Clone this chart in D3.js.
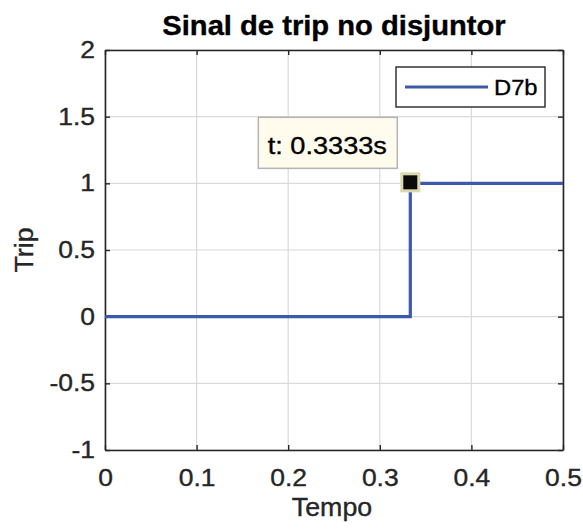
<!DOCTYPE html>
<html>
<head>
<meta charset="utf-8">
<script src="https://cdn.jsdelivr.net/npm/d3@7"></script>
<style>
  body { margin: 0; background: #fff; }
  svg text { font-family: "Liberation Sans", Arial, sans-serif; }
</style>
</head>
<body>
<div id="chart"></div>
<script>
// data
var tempo = [0, 0.3333, 0.3333, 0.5];
var trip = [0, 0, 1, 1];
var xTicks = [0, 0.1, 0.2, 0.3, 0.4, 0.5];
var yTicks = [-1, -0.5, 0, 0.5, 1, 1.5, 2];
var seriesName = "D7b";
var tipT = 0.3333, tipY = 1;

var margin = { top: 50, right: 20, bottom: 79, left: 105 },
  width = 583 - margin.left - margin.right,
  height = 529 - margin.top - margin.bottom;

// matlab text looks a bit wider/heavier than arial, stretch glyphs a little
function widen(sel, k) {
  sel.each(function () {
    var len = this.getComputedTextLength();
    d3.select(this)
      .attr("textLength", len * k)
      .attr("lengthAdjust", "spacingAndGlyphs")
      .style("stroke", d3.select(this).style("fill"))
      .style("stroke-width", 0.35);
  });
}

var svg = d3
  .select("#chart")
  .append("svg")
  .attr("width", 583)
  .attr("height", 529);

var g = svg
  .append("g")
  .attr("transform", "translate(" + margin.left + "," + margin.top + ")");

var x = d3.scaleLinear().domain([0, 0.5]).range([0, width]);
var y = d3.scaleLinear().domain([-1, 2]).range([height, 0]);

// grid
g.append("g")
  .selectAll("line")
  .data(xTicks)
  .enter()
  .append("line")
  .attr("x1", (d) => x(d))
  .attr("x2", (d) => x(d))
  .attr("y1", 0)
  .attr("y2", height)
  .style("stroke", "#dadada")
  .style("stroke-width", 1.2);
g.append("g")
  .selectAll("line")
  .data(yTicks)
  .enter()
  .append("line")
  .attr("x1", 0)
  .attr("x2", width)
  .attr("y1", (d) => y(d))
  .attr("y2", (d) => y(d))
  .style("stroke", "#dadada")
  .style("stroke-width", 1.2);

// axes (ticks inside like matlab)
var fmt = (d) => String(d);
var xaxis = g
  .append("g")
  .attr("transform", "translate(0," + height + ")")
  .call(d3.axisBottom(x).tickValues(xTicks).tickSizeInner(-5).tickSizeOuter(0).tickPadding(20).tickFormat(fmt));
var xaxisTop = g
  .append("g")
  .call(d3.axisTop(x).tickValues(xTicks).tickSizeInner(-5).tickSizeOuter(0).tickFormat(""));
var yaxis = g
  .append("g")
  .call(d3.axisLeft(y).tickValues(yTicks).tickSizeInner(-5).tickSizeOuter(0).tickPadding(10).tickFormat(fmt));
var yaxisRight = g
  .append("g")
  .attr("transform", "translate(" + width + ",0)")
  .call(d3.axisRight(y).tickValues(yTicks).tickSizeInner(-5).tickSizeOuter(0).tickFormat(""));

[xaxis, xaxisTop, yaxis, yaxisRight].forEach(function (a) {
  a.select(".domain").style("stroke", "#262626").style("stroke-width", 1.6);
  a.selectAll(".tick line").style("stroke", "#262626").style("stroke-width", 1.4);
  a.selectAll(".tick text").style("font-size", "23px").style("fill", "#262626");
});
xaxis.selectAll(".tick text").attr("dy", "0.71em");
widen(xaxis.selectAll(".tick text"), 1.15);
widen(yaxis.selectAll(".tick text"), 1.15);

// labels
var title = svg
  .append("text")
  .attr("x", margin.left + width / 2)
  .attr("y", 35)
  .style("text-anchor", "middle")
  .style("font-size", "27px")
  .style("font-weight", "bold")
  .style("fill", "#000")
  .text("Sinal de trip no disjuntor");
widen(title, 1.08);

var xlab = svg
  .append("text")
  .attr("x", margin.left + width / 2 - 2)
  .attr("y", 516)
  .style("text-anchor", "middle")
  .style("font-size", "25px")
  .style("fill", "#262626")
  .text("Tempo");
widen(xlab, 1.07);

var ylab = svg
  .append("text")
  .attr("transform", "rotate(-90)")
  .attr("x", -(margin.top + height / 2))
  .attr("y", 33)
  .style("text-anchor", "middle")
  .style("font-size", "25px")
  .style("fill", "#262626")
  .text("Trip");
widen(ylab, 1.07);

// line
var data = tempo.map((t, i) => ({ t: t, v: trip[i] }));
var line = d3
  .line()
  .x((d) => x(d.t))
  .y((d) => y(d.v));

g.append("path")
  .datum(data)
  .attr("fill", "none")
  .attr("stroke", "#3c5aa8")
  .style("stroke-width", 3.2)
  .attr("d", line);

// datatip marker
g.append("rect")
  .attr("x", x(tipT) - 8.5)
  .attr("y", y(tipY) - 9.5)
  .attr("width", 17)
  .attr("height", 17)
  .style("fill", "#0a0a0a")
  .style("stroke", "#dcd8ae")
  .style("stroke-width", 3);

// datatip box
var tip = g.append("g").attr("transform", "translate(" + (x(tipT) - 152) + "," + (y(tipY) - 66) + ")");
tip
  .append("rect")
  .attr("width", 139)
  .attr("height", 51)
  .style("fill", "#fffcee")
  .style("stroke", "#b4b4b4")
  .style("stroke-width", 1.5);
var tipText = tip
  .append("text")
  .attr("x", 69)
  .attr("y", 37)
  .style("text-anchor", "middle")
  .style("font-size", "23px")
  .style("fill", "#000")
  .text("t: " + tipT + "s");
widen(tipText, 1.18);

// legend
var leg = g.append("g").attr("transform", "translate(" + (width - 167) + ",17)");
leg
  .append("rect")
  .attr("width", 149)
  .attr("height", 40)
  .style("fill", "#fff")
  .style("stroke", "#262626")
  .style("stroke-width", 1.4);
leg
  .append("line")
  .attr("x1", 9)
  .attr("x2", 92)
  .attr("y1", 20)
  .attr("y2", 20)
  .style("stroke", "#3c5aa8")
  .style("stroke-width", 3.2);
var legText = leg
  .append("text")
  .attr("x", 98)
  .attr("y", 28)
  .style("font-size", "22px")
  .style("fill", "#000")
  .text(seriesName);
widen(legText, 1.08);
</script>
</body>
</html>
